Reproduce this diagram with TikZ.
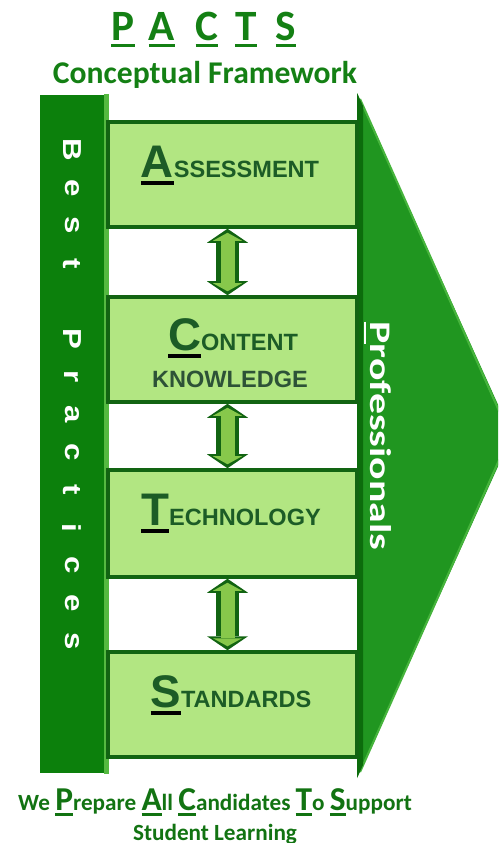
\documentclass[tikz,border=0pt]{standalone}
\usepackage{fontspec}
\usepackage{graphicx}
\usetikzlibrary{arrows.meta}
\newfontfamily\calfont{Carlito}
\newfontfamily\boxfont{Liberation Sans}
\definecolor{pactsgreen}{RGB}{20,128,20}
\definecolor{bargreen}{RGB}{12,128,12}
\definecolor{barlight}{RGB}{85,185,65}
\definecolor{trigreen}{RGB}{32,150,32}
\definecolor{tridark}{RGB}{12,108,12}
\definecolor{trilight}{RGB}{70,180,60}
\definecolor{boxfill}{RGB}{178,230,130}
\definecolor{boxline}{RGB}{18,100,18}
\definecolor{lbltext}{RGB}{45,82,55}
\definecolor{lblfirst}{RGB}{28,92,38}
\definecolor{linkfill}{RGB}{135,200,75}
% underline a letter with a thick bar
\newcommand{\ulet}[1]{\setbox0=\hbox{#1}\rlap{\rule[-0.17em]{\wd0}{0.08em}}\box0}
\newcommand{\biglet}[2][13]{{\fontsize{#1}{#1}\selectfont\ulet{#2}}}
\tikzset{
  bpbar/.style={fill=bargreen, minimum width=0.68cm, minimum height=6.78cm, inner sep=0pt},
  pbox/.style={draw=boxline, line width=1pt, fill=boxfill, minimum width=2.49cm, minimum height=1.05cm, inner sep=0pt},
  lbl/.style={font=\boxfont\bfseries\fontsize{6.7}{8}\selectfont, text=lbltext, inner sep=0pt, anchor=base},
  bpletter/.style={font=\boxfont\bfseries\fontsize{7.4}{8}\selectfont, text=white, rotate=-90, inner sep=0pt},
  pactstitle/.style={font=\calfont\bfseries\fontsize{12.3}{14}\selectfont, text=pactsgreen, inner sep=0pt, anchor=base},
  motto/.style={font=\calfont\bfseries\fontsize{6.6}{8}\selectfont, text=pactsgreen!90!black, inner sep=0pt, anchor=base},
  linkout/.style={line width=0.23cm, draw=boxline, arrows={Triangle[length=1.4mm,width=4.1mm,line width=0pt]-Triangle[length=1.4mm,width=4.1mm,line width=0pt]}},
  linkin/.style={line width=0.14cm, draw=linkfill, shorten <=0.4mm, shorten >=0.4mm, arrows={Triangle[length=0.8mm,width=2.9mm,line width=0pt]-Triangle[length=0.8mm,width=2.9mm,line width=0pt]}}
}
\begin{document}
\begin{tikzpicture}
  \useasboundingbox (0,0) rectangle (4.98,-8.43);
  \clip (0,0) rectangle (4.98,-8.43);
  % heading
  \foreach \ch/\x [count=\i] in {P/1.23,A/1.62,C/2.07,T/2.46,S/2.86}
    \node[pactstitle] (head\i) at (\x,-0.40) {\ulet{\ch}};
  \node[pactstitle, font=\calfont\bfseries\fontsize{9}{10}\selectfont] (sub) at (2.05,-0.83) {Conceptual Framework};
  % arrow on the right
  \fill[trigreen] (3.57,-0.93) -- (5.12,-4.355) -- (3.57,-7.78) -- cycle;
  \draw[trilight, line width=0.6pt] (3.60,-0.99) -- (5.10,-4.355) -- (3.60,-7.72);
  \fill[tridark] (3.57,-0.93) -- (3.63,-1.06) -- (3.63,-7.65) -- (3.57,-7.78) -- cycle;
  % left bar
  \node[bpbar] (bar) at (0.74,-4.34) {};
  \fill[barlight] ([xshift=-0.05cm]bar.north east) rectangle (bar.south east);
  \foreach \ch [count=\i] in {B,e,s,t,{},P,r,a,c,t,i,c,e,s}
    \node[bpletter] (bp\i) at (0.72,{-1.50-0.3775*(\i-1)}) {\scalebox{1.2}[1]{\ch}};
  % the four parts
  \node[pbox] (assess) at (2.325,-1.745) {};
  \node[pbox] (content) at (2.325,-3.495) {};
  \node[pbox, minimum height=1.07cm] (tech) at (2.325,-5.235) {};
  \node[pbox] (stand) at (2.325,-7.045) {};
  \node[lbl] (assesslbl) at (2.30,-1.77) {\biglet{\color{lblfirst}A}SSESSMENT};
  \node[lbl] (contentlbl) at (2.33,-3.50) {\biglet{\color{lblfirst}C}ONTENT};
  \node[lbl] (knowlbl) at (2.30,-3.87) {KNOWLEDGE};
  \node[lbl] (techlbl) at (2.31,-5.25) {\biglet{\color{lblfirst}T}ECHNOLOGY};
  \node[lbl] (standlbl) at (2.31,-7.07) {\biglet{\color{lblfirst}S}TANDARDS};
  \foreach \a/\b in {assess/content,content/tech,tech/stand}{
    \draw[linkout] ([xshift=-0.05cm]\a.south) -- ([xshift=-0.05cm]\b.north);
    \draw[linkin] ([xshift=-0.05cm]\a.south) -- ([xshift=-0.05cm]\b.north);
  }
  \node[anchor=base, rotate=-90, text=white, inner sep=0pt, font=\calfont\bfseries\fontsize{8.5}{9}\selectfont] (prof) at (3.70,-4.36) {\scalebox{1.4}[1]{\underline{P}rofessionals}};
  % motto
  \node[motto] (motto1) at (2.15,-8.10) {We \biglet[9.5]{P}repare \biglet[9.5]{A}ll \biglet[9.5]{C}andidates \biglet[9.5]{T}o \biglet[9.5]{S}upport};
  \node[motto] (motto2) at (2.15,-8.40) {Student Learning};
\end{tikzpicture}
\end{document}
